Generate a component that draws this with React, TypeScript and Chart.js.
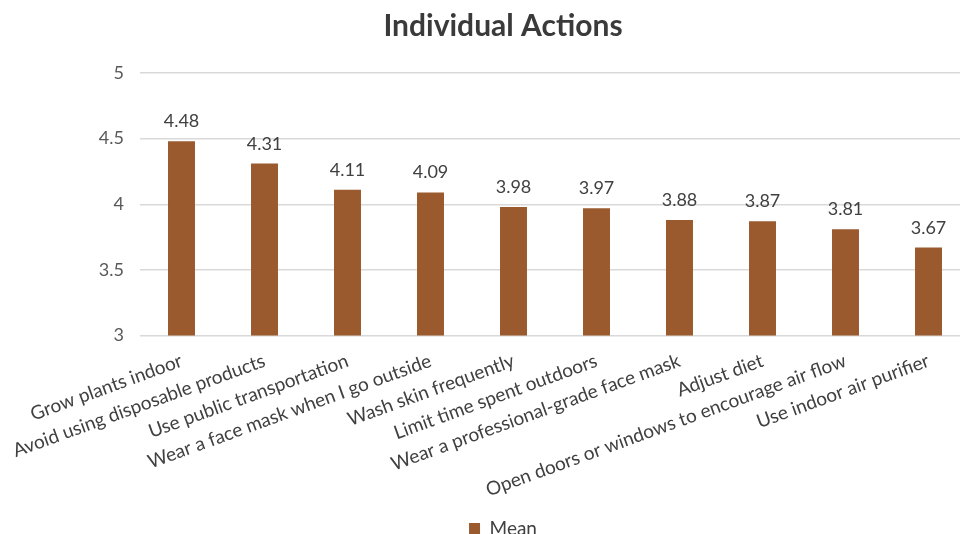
import React, { useEffect, useRef } from "react";
import { Chart, registerables } from "chart.js";

Chart.register(...registerables);

const categories = [
  "Grow plants indoor",
  "Avoid using disposable products",
  "Use public transportation",
  "Wear a face mask when I go outside",
  "Wash skin frequently",
  "Limit time spent outdoors",
  "Wear a professional-grade face mask",
  "Adjust diet",
  "Open doors or windows to encourage air flow",
  "Use indoor air purifier",
];
const meanValues = [4.48, 4.31, 4.11, 4.09, 3.98, 3.97, 3.88, 3.87, 3.81, 3.67];
const seriesName = "Mean";
const chartTitle = "Individual Actions";
const yMin = 3;
const yMax = 5;
const yStep = 0.5;

const FONT = "Lato, 'Open Sans', sans-serif";
const BAR_COLOR = "#9B5A2D";

export default function App() {
  const ref = useRef<HTMLCanvasElement | null>(null);

  useEffect(() => {
    if (!ref.current) return;
    const valueLabels = {
      id: "valueLabels",
      afterDatasetsDraw(chart: any) {
        const ctx = chart.ctx;
        const meta = chart.getDatasetMeta(0);
        ctx.save();
        ctx.font = `18px ${FONT}`;
        ctx.fillStyle = "#404040";
        ctx.textAlign = "center";
        ctx.textBaseline = "alphabetic";
        meta.data.forEach((bar: any, i: number) => {
          const v = chart.data.datasets[0].data[i] as number;
          ctx.fillText(v.toFixed(2), bar.x, bar.y - 14);
        });
        ctx.restore();
      },
    };

    const chart = new Chart(ref.current, {
      type: "bar",
      data: {
        labels: categories,
        datasets: [
          {
            label: seriesName,
            data: meanValues,
            backgroundColor: BAR_COLOR,
            borderWidth: 0,
            categoryPercentage: 0.5,
            barPercentage: 0.65,
          },
        ],
      },
      options: {
        responsive: false,
        animation: false,
        layout: { padding: { left: 0, right: 0, top: 0, bottom: 0 } },
        plugins: {
          title: {
            display: true,
            text: chartTitle,
            color: "#3A3A3A",
            font: { family: FONT, size: 30, weight: "bold" },
            padding: { top: 8, bottom: 29 },
          },
          legend: {
            display: true,
            position: "bottom",
            labels: {
              boxWidth: 11,
              boxHeight: 11,
              color: "#404040",
              font: { family: FONT, size: 19 },
            },
          },
          tooltip: { enabled: false },
        },
        scales: {
          x: {
            grid: { display: false },
            border: { display: false },
            ticks: {
              autoSkip: false,
              minRotation: 20,
              maxRotation: 20,
              color: "#404040",
              font: { family: FONT, size: 19 },
              padding: 6,
            },
            afterFit: (scale: any) => {
              scale.height = 173.5;
            },
          },
          y: {
            min: yMin,
            max: yMax,
            grid: { color: "#D9D9D9", lineWidth: 1.5, drawTicks: false },
            border: { display: false },
            ticks: {
              stepSize: yStep,
              color: "#595959",
              font: { family: FONT, size: 18 },
              padding: 16,
              callback: (v: any) => String(Number(v)),
            },
            afterFit: (scale: any) => {
              scale.width = 140;
            },
          },
          yRight: {
            position: "right",
            min: yMin,
            max: yMax,
            grid: { display: false, drawTicks: false },
            border: { display: false },
            ticks: { display: false },
            afterFit: (scale: any) => {
              scale.width = 36;
            },
          },
        },
      },
      plugins: [valueLabels],
    });
    return () => chart.destroy();
  }, []);

  return (
    <div
      style={{
        position: "fixed",
        left: 0,
        top: 0,
        width: 960,
        height: 534,
        overflow: "hidden",
        background: "#fff",
      }}
    >
      <canvas ref={ref} width={1006} height={548} style={{ display: "block" }} />
    </div>
  );
}
